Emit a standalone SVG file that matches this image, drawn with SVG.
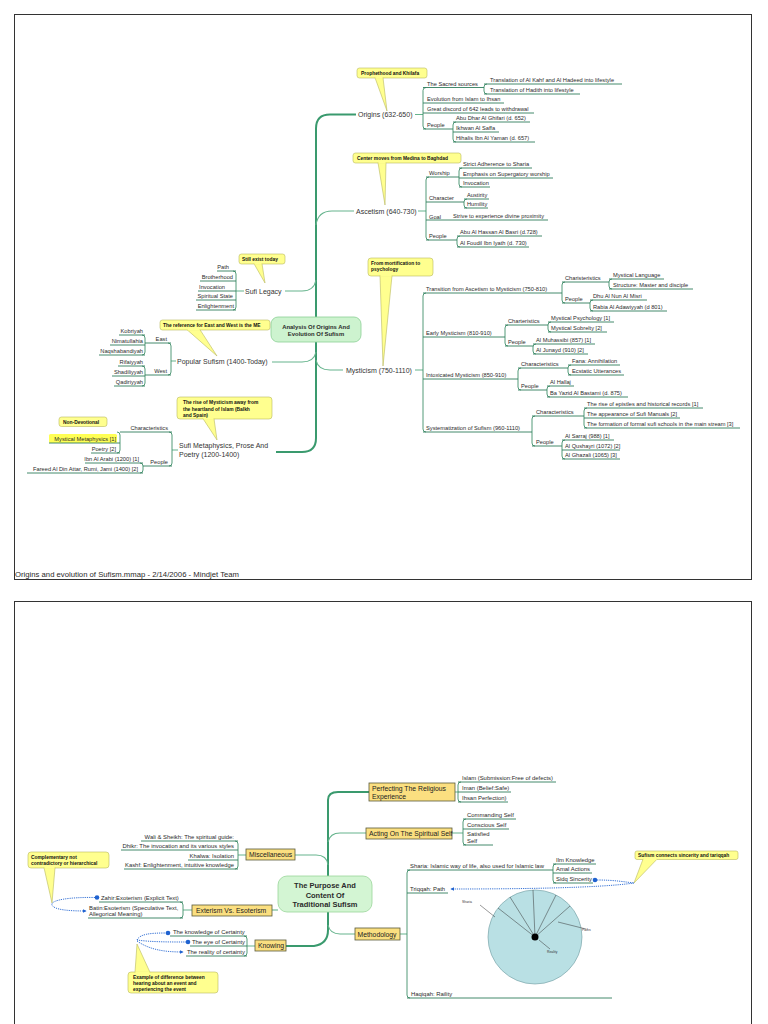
<svg xmlns="http://www.w3.org/2000/svg" width="768" height="1024" viewBox="0 0 768 1024">
<style>
text{font-family:"Liberation Sans",Arial,sans-serif;fill:#2a2a2a}
.s{font-size:5.7px}
.s2{font-size:5.9px}
.r{text-anchor:end}
.m{font-size:7px;fill:#333}
.c{font-size:4.9px;font-weight:bold;fill:#111}
.ul{stroke:#2f7d5c;stroke-width:0.9;fill:none}
.bar{stroke:#3f8f6a;stroke-width:0.9;fill:none}
.br{stroke:#66b48d;stroke-width:1.1;fill:none}
.tr{stroke:#3a9a6e;stroke-width:2;fill:none}
.call{fill:#ffff8f;stroke:#b9b960;stroke-width:0.6}
.box{fill:#fbdf80;stroke:#5a5a3a;stroke-width:0.8}
.bt{font-size:6.8px;fill:#222}
.rel{stroke:#1f62d0;stroke-width:0.9;stroke-dasharray:1.2 1;fill:none}
.dot{fill:#1f62d0}
.tiny{font-size:3.4px;fill:#333}
</style>
<defs>
<marker id="ah" viewBox="0 0 6 6" refX="5" refY="3" markerWidth="4" markerHeight="4" orient="auto"><path d="M0,0 L6,3 L0,6 z" fill="#1f62d0"/></marker>
</defs>
<rect x="14.5" y="14.5" width="737" height="565" fill="#fff" stroke="#333" stroke-width="1"/>
<rect x="14.5" y="601.5" width="737" height="440" fill="#fff" stroke="#333" stroke-width="1"/>
<text x="15" y="577" font-size="7" textLength="224" lengthAdjust="spacingAndGlyphs">Origins and evolution of Sufism.mmap - 2/14/2006 - Mindjet Team</text>

<g id="connectors">
<path class="tr" d="M356 114.5 H330 Q316 114.5 316 128.5 V438 Q316 452 302 452 H276"/>
<path class="br" d="M316 225 Q318 211 332 211 H354"/>
<path class="br" d="M285 291 H302 Q314 291 316 280"/>
<path class="br" d="M316 352 Q314 362 302 362 H272"/>
<path class="br" d="M316 360 Q318 370 330 370 H343"/>
<path class="br" d="M415 114.5 H423 M418 211 H426 M415 370 H423 M236 291 H244 M171 361 H176 M172 450 H178"/>
<g class="bar">
<path d="M426 87.5Q423 87.5 423 90.5V126Q423 129 426 129"/>
<path d="M487 84Q484 84 484 87V91Q484 94 487 94"/>
<path d="M456 122Q453 122 453 125V139Q453 142 456 142"/>
<path d="M429 177Q426 177 426 180V237Q426 240 429 240"/>
<path d="M462 168Q459 168 459 171V184Q459 187 462 187"/>
<path d="M467 199Q464 199 464 202V205Q464 208 467 208"/>
<path d="M460 236Q457 236 457 239V244Q457 247 460 247"/>
<path d="M426 293Q423 293 423 296V429Q423 432 426 432"/>
<path d="M565 282Q562 282 562 285V300Q562 303 565 303"/>
<path d="M612 279Q609 279 609 282V286Q609 289 612 289"/>
<path d="M593 300Q590 300 590 303V308Q590 311 593 311"/>
<path d="M508 325Q505 325 505 328V343Q505 346 508 346"/>
<path d="M551 322Q548 322 548 325V329Q548 332 551 332"/>
<path d="M536 344Q533 344 533 347V351Q533 354 536 354"/>
<path d="M521 368Q518 368 518 371V387Q518 390 521 390"/>
<path d="M571 365Q568 365 568 368V372Q568 375 571 375"/>
<path d="M550 386Q547 386 547 389V394Q547 397 550 397"/>
<path d="M535 416Q532 416 532 419V443Q532 446 535 446"/>
<path d="M587 408Q584 408 584 411V425Q584 428 587 428"/>
<path d="M565 440Q562 440 562 443V456Q562 459 565 459"/>
<path d="M233 271Q236 271 236 274V307Q236 310 233 310"/>
<path d="M168 343Q171 343 171 346V372Q171 375 168 375"/>
<path d="M142 335Q145 335 145 338V352Q145 355 142 355"/>
<path d="M142 366Q145 366 145 369V383Q145 386 142 386"/>
<path d="M169 432Q172 432 172 435V463Q172 466 169 466"/>
<path d="M117 432Q120 432 120 435V450Q120 453 117 453"/>
<path d="M140 463Q143 463 143 466V470Q143 473 140 473"/>
</g>
<path class="tr" d="M328 876 V800 Q328 792 338 792 H369"/>
<path class="br" d="M328 842 Q330 833 340 833 H366"/>
<path class="br" d="M295 855 H316 Q327 855 328 865"/>
<path class="br" d="M272 910 H278"/>
<path class="tr" d="M328 912 V930 Q328 944 314 946 H286"/>
<path class="br" d="M328 925 Q330 934 340 934 H355"/>
<path class="br" d="M455 792 H458 M452 833 H463 M246 855 H238 M192 910 H183 M255 946 H247 M400 934 H407"/>
<g class="bar">
<path d="M461 782Q458 782 458 785V799Q458 802 461 802"/>
<path d="M466 819Q463 819 463 822V842Q463 845 466 845"/>
<path d="M235 841Q238 841 238 844V866Q238 869 235 869"/>
<path d="M180 902Q183 902 183 905V915Q183 918 180 918"/>
<path d="M244 936Q247 936 247 939V953Q247 956 244 956"/>
<path d="M410 870Q407 870 407 873V995Q407 998 410 998"/>
<path d="M556 864Q553 864 553 867V880Q553 883 556 883"/>
</g>
<path class="rel" d="M95 897.5 C70 897, 50 900, 52 905 C54 910, 70 911, 86 911" marker-end="url(#ah)"/>
<path class="rel" d="M137 940 C140 934, 150 933, 166 933"/>
<path class="rel" d="M137 940 C150 942, 170 942, 186 942"/>
<path class="rel" d="M137 941 C150 950, 165 952, 183 952" marker-end="url(#ah)"/>
<path class="rel" d="M597 880 C615 880, 625 882, 634 883"/>
<path class="rel" d="M634 883 C600 888, 520 889, 451 889" marker-end="url(#ah)"/>
<circle class="dot" cx="97" cy="897.5" r="2.3"/>
<circle class="dot" cx="168" cy="933" r="2.3"/>
<circle class="dot" cx="188" cy="942" r="2.3"/>
<circle class="dot" cx="595" cy="880" r="2.3"/>
</g>

<g id="n-center1">
<rect x="271" y="317" width="90" height="25" rx="7" fill="#cdf3cf" stroke="#8ccf95" stroke-width="0.8"/>
<text x="316" y="328.5" font-size="5.9" font-weight="bold" text-anchor="middle" fill="#333">Analysis Of Origins And</text>
<text x="316" y="336" font-size="5.9" font-weight="bold" text-anchor="middle" fill="#333">Evolution Of Sufism</text>
</g>

<g id="n-origins"><text class="m" x="358" y="116.5">Origins (632-650)</text></g>
<g id="c-origins"><rect class="call" x="357" y="68" width="70" height="10" rx="2.5"/><polygon class="call" points="375,77.7 387,111 383,77.7"/><rect x="375.3" y="76.5" width="7.4" height="2" fill="#ffff8f"/><text class="c" x="361" y="75">Prophethood and Khilafa</text></g>
<g id="n-sacred"><text class="s" x="427" y="85.5">The Sacred sources</text><path class="ul" d="M423 87.5H484"/></g>
<g id="n-kahf"><text class="s" x="490" y="82">Translation of Al Kahf and Al Hadeed into lifestyle</text><path class="ul" d="M484 84H622"/></g>
<g id="n-hadith"><text class="s" x="490" y="92">Translation of Hadith into lifestyle</text><path class="ul" d="M484 94H580"/></g>
<g id="n-evol"><text class="s" x="427" y="101">Evolution from Islam to Ihsan</text><path class="ul" d="M423 103H504"/></g>
<g id="n-discord"><text class="s" x="427" y="111">Great discord of 642 leads to withdrawal</text><path class="ul" d="M423 113H534"/></g>
<g id="n-people-o"><text class="s" x="427" y="127">People</text><path class="ul" d="M423 129H453"/></g>
<g id="n-abudhar"><text class="s" x="456" y="120">Abu Dhar Al Ghifari (d. 652)</text><path class="ul" d="M453 122H530"/></g>
<g id="n-ikhwan"><text class="s" x="456" y="130">Ikhwan Al Saffa</text><path class="ul" d="M453 132H499"/></g>
<g id="n-hihalis"><text class="s" x="456" y="140">Hihalis Ibn Al Yaman (d. 657)</text><path class="ul" d="M453 142H535"/></g>

<g id="n-ascetism"><text class="m" x="356" y="213.5">Ascetism (640-730)</text></g>
<g id="c-ascetism"><rect class="call" x="353" y="153" width="108" height="10" rx="2.5"/><polygon class="call" points="378,162.7 385,205 386,162.7"/><rect x="378.3" y="161.5" width="7.4" height="2" fill="#ffff8f"/><text class="c" x="357" y="160">Center moves from Medina to Baghdad</text></g>
<g id="n-worship"><text class="s" x="429" y="175">Worship</text><path class="ul" d="M426 177H459"/></g>
<g id="n-strict"><text class="s" x="463" y="166">Strict Adherence to Sharia</text><path class="ul" d="M459 168H532"/></g>
<g id="n-emphasis"><text class="s" x="463" y="176">Emphasis on Supergatory worship</text><path class="ul" d="M459 178H553"/></g>
<g id="n-invocation-a"><text class="s" x="463" y="185">Invocation</text><path class="ul" d="M459 187H490"/></g>
<g id="n-character"><text class="s" x="429" y="200">Character</text><path class="ul" d="M426 202H464"/></g>
<g id="n-austirity"><text class="s" x="467" y="197">Austirity</text><path class="ul" d="M464 199H489"/></g>
<g id="n-humility"><text class="s" x="467" y="206">Humility</text><path class="ul" d="M464 208H488"/></g>
<g id="n-goal"><text class="s" x="429" y="219">Goal</text><text class="s" x="453" y="218">Strive to experience divine proximity</text><path class="ul" d="M426 220H548"/></g>
<g id="n-people-a"><text class="s" x="429" y="238">People</text><path class="ul" d="M426 240H457"/></g>
<g id="n-basri"><text class="s" x="460" y="234">Abu Al Hassan Al Basri (d.728)</text><path class="ul" d="M457 236H542"/></g>
<g id="n-foudil"><text class="s" x="460" y="245">Al Foudil Ibn Iyath (d. 730)</text><path class="ul" d="M457 247H529"/></g>

<g id="n-mysticism"><text class="m" x="346" y="372.5">Mysticism (750-1110)</text></g>
<g id="c-mysticism"><rect class="call" x="368" y="258" width="65" height="18" rx="3"/><polygon class="call" points="380,275.7 383,366 392,275.7"/><rect x="380.3" y="274.5" width="11.4" height="2" fill="#ffff8f"/><text class="c" x="371" y="264.5">From mortification to</text><text class="c" x="371" y="271">psychology</text></g>
<g id="n-transition"><text class="s" x="426" y="291">Transition from Ascetism to Mysticism (750-810)</text><path class="ul" d="M423 293H562"/></g>
<g id="n-charist"><text class="s" x="565" y="280">Charisteristics</text><path class="ul" d="M562 282H609"/></g>
<g id="n-mlang"><text class="s" x="613" y="277">Mystical Language</text><path class="ul" d="M609 279H664"/></g>
<g id="n-struct"><text class="s" x="613" y="287">Structure: Master and disciple</text><path class="ul" d="M609 289H693"/></g>
<g id="n-people-t"><text class="s" x="565" y="301">People</text><path class="ul" d="M562 303H590"/></g>
<g id="n-dhu"><text class="s" x="593" y="298">Dhu Al Nun Al Misri</text><path class="ul" d="M590 300H647"/></g>
<g id="n-rabia"><text class="s" x="593" y="309">Rabia Al Adawiyyah (d 801)</text><path class="ul" d="M590 311H667"/></g>
<g id="n-early"><text class="s" x="426" y="335">Early Mysticism (810-910)</text><path class="ul" d="M423 337H505"/></g>
<g id="n-charte"><text class="s" x="508" y="323">Charteristics</text><path class="ul" d="M505 325H548"/></g>
<g id="n-mpsy"><text class="s" x="551" y="320">Mystical Psychology [1]</text><path class="ul" d="M548 322H614"/></g>
<g id="n-msob"><text class="s" x="551" y="330">Mystical Sobrelty [2]</text><path class="ul" d="M548 332H607"/></g>
<g id="n-people-e"><text class="s" x="508" y="344">People</text><path class="ul" d="M505 346H533"/></g>
<g id="n-muhas"><text class="s" x="536" y="342">Al Muhassibi (857) [1]</text><path class="ul" d="M533 344H595"/></g>
<g id="n-junayd"><text class="s" x="536" y="352">Al Junayd (910) [2]</text><path class="ul" d="M533 354H588"/></g>
<g id="n-intox"><text class="s" x="426" y="377">Intoxicated Mysticism (850-910)</text><path class="ul" d="M423 379H518"/></g>
<g id="n-char-i"><text class="s" x="521" y="366">Characteristics</text><path class="ul" d="M518 368H568"/></g>
<g id="n-fana"><text class="s" x="572" y="363">Fana: Annihilation</text><path class="ul" d="M568 365H620"/></g>
<g id="n-ecstatic"><text class="s" x="572" y="373">Ecstatic Utterances</text><path class="ul" d="M568 375H624"/></g>
<g id="n-people-i"><text class="s" x="521" y="388">People</text><path class="ul" d="M518 390H547"/></g>
<g id="n-hallaj"><text class="s" x="550" y="384">Al Hallaj</text><path class="ul" d="M547 386H574"/></g>
<g id="n-bayazid"><text class="s" x="550" y="395">Ba Yazid Al Bastami (d. 875)</text><path class="ul" d="M547 397H628"/></g>
<g id="n-system"><text class="s" x="426" y="430">Systematization of Sufism (960-1110)</text><path class="ul" d="M423 432H532"/></g>
<g id="n-char-s"><text class="s" x="536" y="414">Characteristics</text><path class="ul" d="M532 416H584"/></g>
<g id="n-epistles"><text class="s" x="587" y="406">The rise of epistles and historical records [1]</text><path class="ul" d="M584 408H703"/></g>
<g id="n-manuals"><text class="s" x="587" y="416">The appearance of Sufi Manuals [2]</text><path class="ul" d="M584 418H680"/></g>
<g id="n-schools"><text class="s" x="587" y="426">The formation of formal sufi schools in the main stream [3]</text><path class="ul" d="M584 428H740"/></g>
<g id="n-people-s"><text class="s" x="536" y="444">People</text><path class="ul" d="M532 446H562"/></g>
<g id="n-sarraj"><text class="s" x="565" y="438">Al Sarraj (988) [1]</text><path class="ul" d="M562 440H614"/></g>
<g id="n-qushayri"><text class="s" x="565" y="448">Al Qushayri (1072) [2]</text><path class="ul" d="M562 450H620"/></g>
<g id="n-ghazali"><text class="s" x="565" y="457">Al Ghazali (1065) [3]</text><path class="ul" d="M562 459H620"/></g>

<g id="n-legacy"><text class="m" x="245" y="293.5">Sufi Legacy</text></g>
<g id="c-legacy"><rect class="call" x="239" y="254" width="46" height="10" rx="2.5"/><polygon class="call" points="254,263.7 265,283 262,263.7"/><rect x="254.3" y="262.5" width="7.4" height="2" fill="#ffff8f"/><text class="c" x="242" y="261">Still exist today</text></g>
<g id="n-path"><text class="s r" x="229" y="269">Path</text><path class="ul" d="M217 271H236"/></g>
<g id="n-brother"><text class="s r" x="233" y="279">Brotherhood</text><path class="ul" d="M200 281H236"/></g>
<g id="n-invocation-l"><text class="s r" x="225" y="289">Invocation</text><path class="ul" d="M198 291H236"/></g>
<g id="n-spirit"><text class="s r" x="233" y="298">Spiritual State</text><path class="ul" d="M196 300H236"/></g>
<g id="n-enlight"><text class="s r" x="234" y="308">Enlightenment</text><path class="ul" d="M196 310H236"/></g>

<g id="n-popular"><text class="m" x="177" y="364">Popular Sufism (1400-Today)</text></g>
<g id="c-popular"><rect class="call" x="160" y="320" width="110" height="10" rx="2.5"/><polygon class="call" points="187,329.7 217,356 200,329.7"/><rect x="187.3" y="328.5" width="12.4" height="2" fill="#ffff8f"/><text class="c" x="163" y="327">The reference for East and West is the ME</text></g>
<g id="n-east"><text class="s r" x="167" y="341">East</text><path class="ul" d="M145 343H171"/></g>
<g id="n-kobriyah"><text class="s r" x="143" y="333">Kobriyah</text><path class="ul" d="M119 335H145"/></g>
<g id="n-nimat"><text class="s r" x="143" y="343">Nimatullahia</text><path class="ul" d="M110 345H145"/></g>
<g id="n-naqsh"><text class="s r" x="143" y="353">Naqshabandiyah</text><path class="ul" d="M99 355H145"/></g>
<g id="n-west"><text class="s r" x="167" y="373">West</text><path class="ul" d="M145 375H171"/></g>
<g id="n-rifai"><text class="s r" x="143" y="364">Rifaiyyah</text><path class="ul" d="M118 366H145"/></g>
<g id="n-shadili"><text class="s r" x="143" y="374">Shadiliyyah</text><path class="ul" d="M112 376H145"/></g>
<g id="n-qadiri"><text class="s r" x="143" y="384">Qadiriyyah</text><path class="ul" d="M114 386H145"/></g>

<g id="n-metaph"><text class="m" x="179" y="447.5">Sufi Metaphysics, Prose And</text><text class="m" x="179" y="456.5">Poetry (1200-1400)</text></g>
<g id="c-metaph"><rect class="call" x="177" y="397" width="95" height="22" rx="3"/><polygon class="call" points="203,418.7 217,440 214,418.7"/><rect x="203.3" y="417.5" width="10.4" height="2" fill="#ffff8f"/><text class="c" x="183" y="404">The rise of Mysticism away from</text><text class="c" x="183" y="410.5">the heartland of Islam (Balkh</text><text class="c" x="183" y="417">and Spain)</text></g>
<g id="n-char-m"><text class="s r" x="168" y="430">Characteristics</text><path class="ul" d="M120 432H172"/></g>
<g id="n-mmeta"><rect x="49" y="434" width="68" height="9" rx="1.5" fill="#ffff55"/><text class="s r" x="116" y="441">Mystical Metaphysics [1]</text><path class="ul" d="M49 443H120"/></g>
<g id="c-nondev"><rect class="call" x="59" y="417" width="48" height="9.5" rx="2.5"/><text class="c" x="63" y="423.8">Non-Devotional</text></g>
<g id="n-poetry"><text class="s r" x="116" y="451">Poetry [2]</text><path class="ul" d="M91 453H120"/></g>
<g id="n-people-m"><text class="s r" x="168" y="464">People</text><path class="ul" d="M143 466H172"/></g>
<g id="n-arabi"><text class="s r" x="139" y="461">Ibn Al Arabi (1200) [1]</text><path class="ul" d="M85 463H143"/></g>
<g id="n-attar"><text class="s r" x="138" y="471">Fareed Al Din Attar, Rumi, Jami (1400) [2]</text><path class="ul" d="M27 473H143"/></g>

<g id="n-center2">
<rect x="278" y="876" width="94" height="36" rx="9" fill="#d3f5d3" stroke="#9ad69a" stroke-width="0.8"/>
<text x="325" y="888" font-size="7.5" font-weight="bold" text-anchor="middle" fill="#333">The Purpose And</text>
<text x="325" y="897.5" font-size="7.5" font-weight="bold" text-anchor="middle" fill="#333">Content Of</text>
<text x="325" y="907" font-size="7.5" font-weight="bold" text-anchor="middle" fill="#333">Traditional Sufism</text>
</g>
<g id="n-perfect"><rect class="box" x="369" y="783" width="86" height="18"/><text class="bt" x="372" y="790.5">Perfecting The Religious</text><text class="bt" x="372" y="798.5">Experience</text></g>
<g id="n-islam"><text class="s2" x="462" y="780">Islam (Submission:Free of defects)</text><path class="ul" d="M458 782H556"/></g>
<g id="n-iman"><text class="s2" x="462" y="790">Iman (Belief:Safe)</text><path class="ul" d="M458 792H511"/></g>
<g id="n-ihsan"><text class="s2" x="462" y="800">Ihsan Perfection)</text><path class="ul" d="M458 802H508"/></g>
<g id="n-acting"><rect class="box" x="366" y="828" width="86" height="11"/><text class="bt" x="369" y="836">Acting On The Spiritual Self</text></g>
<g id="n-commanding"><text class="s2" x="467" y="817">Commanding Self</text><path class="ul" d="M463 819H516"/></g>
<g id="n-conscious"><text class="s2" x="467" y="827">Conscious Self</text><path class="ul" d="M463 829H509"/></g>
<g id="n-satisfied"><text class="s2" x="467" y="836">Satisfied</text><text class="s2" x="467" y="843">Self</text><path class="ul" d="M463 845H493"/></g>
<g id="n-misc"><rect class="box" x="246" y="849" width="49" height="11"/><text class="bt" x="249" y="857">Miscellaneous</text></g>
<g id="n-wali"><text class="s2 r" x="234" y="839">Wali &amp; Sheikh: The spiritual guide:</text><path class="ul" d="M141 841H238"/></g>
<g id="n-dhikr"><text class="s2 r" x="234" y="848">Dhikr: The invocation and its various styles</text><path class="ul" d="M121 850H238"/></g>
<g id="n-khalwa"><text class="s2 r" x="234" y="858">Khalwa: Isolation</text><path class="ul" d="M188 860H238"/></g>
<g id="n-kashf"><text class="s2 r" x="234" y="867">Kashf: Enlightenment, intuitive knowledge</text><path class="ul" d="M124 869H238"/></g>
<g id="c-compl"><rect class="call" x="28" y="852" width="81" height="16" rx="3"/><polygon class="call" points="44,867.7 52,903 55,867.7"/><rect x="44.3" y="866.5" width="10.4" height="2" fill="#ffff8f"/><text class="c" x="31" y="858.5">Complementary not</text><text class="c" x="31" y="865">contradictory or hierarchical</text></g>
<g id="n-exter"><rect class="box" x="192" y="905" width="80" height="11"/><text class="bt" x="196" y="913">Exterism Vs. Esoterism</text></g>
<g id="n-zahir"><text class="s2" x="101" y="900">Zahir:Exoterism  (Explicit Text)</text><path class="ul" d="M99 902H183"/></g>
<g id="n-batin"><text class="s2" x="89" y="909.5">Batin:Esoterism (Speculative Text,</text><text class="s2" x="89" y="916">Allegorical Meaning)</text><path class="ul" d="M88 918H183"/></g>
<g id="n-knowing"><rect class="box" x="255" y="940" width="31" height="11"/><text class="bt" x="258" y="948">Knowing</text></g>
<g id="n-kcert"><text class="s2" x="173" y="934">The knowledge of Certainty</text><path class="ul" d="M170 936H247"/></g>
<g id="n-ecert"><text class="s2" x="192" y="944">The eye of Certainty</text><path class="ul" d="M190 946H247"/></g>
<g id="n-rcert"><text class="s2" x="187" y="954">The reality of certainty</text><path class="ul" d="M186 956H247"/></g>
<g id="c-example"><rect class="call" x="128" y="972" width="90" height="21" rx="3"/><polygon class="call" points="135,972.3 137,944 150,972.3"/><rect x="135.3" y="971.5" width="14.4" height="2" fill="#ffff8f"/><text class="c" x="133" y="978.5">Example of difference between</text><text class="c" x="133" y="984.5">hearing about an event and</text><text class="c" x="133" y="990.5">experiencing the event</text></g>
<g id="n-method"><rect class="box" x="355" y="928" width="45" height="12"/><text class="bt" x="357.5" y="936.5">Methodology</text></g>
<g id="n-sharia"><text class="s2" x="410" y="868">Sharia: Islamic way of life, also used for Islamic law</text><path class="ul" d="M407 870H553"/></g>
<g id="n-ilm"><text class="s2" x="556" y="862">Ilm Knowledge</text><path class="ul" d="M553 864H596"/></g>
<g id="n-amal"><text class="s2" x="556" y="871">Amal Actions</text><path class="ul" d="M553 873H592"/></g>
<g id="n-sidq"><text class="s2" x="556" y="881">Sidq Sincerity</text><path class="ul" d="M553 883H593"/></g>
<g id="n-triqqah"><text class="s2" x="410" y="891">Triqqah: Path</text><path class="ul" d="M407 893H448"/></g>
<g id="n-haqiqah"><text class="s2" x="411" y="996">Haqiqah: Raility</text><path class="ul" d="M407 998H612"/></g>
<g id="c-sufism"><rect class="call" x="635" y="851" width="103" height="8.5" rx="2"/><polygon class="call" points="643,859.2 634,883 657,859.2"/><rect x="643.3" y="858" width="13.4" height="2" fill="#ffff8f"/><text class="c" x="638" y="857.3">Sufism connects sincerity and tariqqah</text></g>
<g id="n-wheel">
<circle cx="535" cy="937" r="47" fill="#b9e0e4" stroke="#6f9aa0" stroke-width="0.6"/>
<path d="M535 937L498 908M535 937L510 897M535 937L533 890M535 937L556 895M535 937L570 906" stroke="#333" stroke-width="0.5" fill="none"/>
<path d="M480 905L495 917M586 929L558 922M550 949L539 940" stroke="#333" stroke-width="0.5" fill="none"/>
<circle cx="535" cy="937" r="3.5" fill="#000"/>
<text class="tiny" x="462" y="903">Sharia</text>
<text class="tiny" x="582" y="931">Paths</text>
<text class="tiny" x="547" y="953">Reality</text>
</g>
</svg>
